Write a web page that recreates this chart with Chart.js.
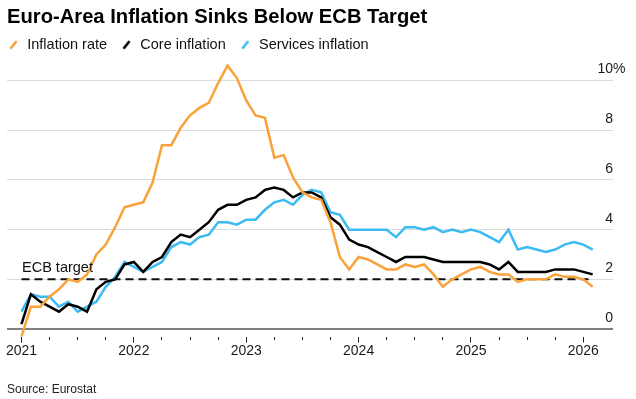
<!DOCTYPE html>
<html>
<head>
<meta charset="utf-8">
<title>Euro-Area Inflation Sinks Below ECB Target</title>
<script src="https://cdn.jsdelivr.net/npm/chart.js@4.4.1/dist/chart.umd.min.js"></script>
<style>
  html, body { margin: 0; padding: 0; background: #fff; }
  .chart-box { position: relative; width: 636px; height: 399px; }
</style>
</head>
<body>
<div class="chart-box"><canvas id="inflationChart"></canvas></div>
<script>
// Euro area, % change y/y, monthly from Dec 2020 to Jan 2026 (Eurostat)
var inflationRate = [-0.3,
  0.9, 0.9, 1.3, 1.6, 2.0, 1.9, 2.2, 3.0, 3.4, 4.1, 4.9, 5.0,
  5.1, 5.9, 7.4, 7.4, 8.1, 8.6, 8.9, 9.1, 9.9, 10.6, 10.1, 9.2,
  8.6, 8.5, 6.9, 7.0, 6.1, 5.5, 5.3, 5.2, 4.3, 2.9, 2.4, 2.9,
  2.8, 2.6, 2.4, 2.4, 2.6, 2.5, 2.6, 2.2, 1.7, 2.0, 2.2, 2.4,
  2.5, 2.3, 2.2, 2.2, 1.9, 2.0, 2.0, 2.0, 2.2, 2.1, 2.1, 2.0,
  1.7];
var coreInflation = [0.2,
  1.4, 1.1, 0.9, 0.7, 1.0, 0.9, 0.7, 1.6, 1.9, 2.0, 2.6, 2.7,
  2.3, 2.7, 2.9, 3.5, 3.8, 3.7, 4.0, 4.3, 4.8, 5.0, 5.0, 5.2,
  5.3, 5.6, 5.7, 5.6, 5.3, 5.5, 5.5, 5.3, 4.5, 4.2, 3.6, 3.4,
  3.3, 3.1, 2.9, 2.7, 2.9, 2.9, 2.9, 2.8, 2.7, 2.7, 2.7, 2.7,
  2.7, 2.6, 2.4, 2.7, 2.3, 2.3, 2.3, 2.3, 2.4, 2.4, 2.4, 2.3,
  2.2];
var servicesInflation = [0.7,
  1.4, 1.3, 1.3, 0.9, 1.1, 0.7, 0.9, 1.1, 1.7, 2.1, 2.7, 2.5,
  2.3, 2.5, 2.7, 3.3, 3.5, 3.4, 3.7, 3.8, 4.3, 4.3, 4.2, 4.4,
  4.4, 4.8, 5.1, 5.2, 5.0, 5.4, 5.6, 5.5, 4.7, 4.6, 4.0, 4.0,
  4.0, 4.0, 4.0, 3.7, 4.1, 4.1, 4.0, 4.1, 3.9, 4.0, 3.9, 4.0,
  3.9, 3.7, 3.5, 4.0, 3.2, 3.3, 3.2, 3.1, 3.2, 3.4, 3.5, 3.4,
  3.2];
var ecbTarget = 2;

var yearLabels = ['2021', '2022', '2023', '2024', '2025', '2026'];
var yearTickAt = [0, 12, 24, 36, 48, 60];
var quarterTickAt = [0, 3, 6, 9, 12, 15, 18, 21, 24, 27, 30, 33, 36, 39, 42, 45, 48, 51, 54, 57, 60];
var yTicks = [0, 2, 4, 6, 8, 10];

// x is the month number counted from Dec 2020
var monthIndex = [];
for (var i = 0; i < inflationRate.length; i++) {
    monthIndex.push(i);
}

var orange = '#F9A23A';
var blue = '#3CBAF2';
var black = '#000000';
var fontFamily = '"Liberation Sans", Arial, Helvetica, sans-serif';

Chart.defaults.font.family = fontFamily;
Chart.defaults.color = '#1a1a1a';

// little slanted strokes used as legend markers
function slashIcon(color) {
    var c = document.createElement('canvas');
    c.width = 12;
    c.height = 12;
    var g = c.getContext('2d');
    g.strokeStyle = color;
    g.lineWidth = 2.6;
    g.beginPath();
    g.moveTo(2.5, 9.8);
    g.lineTo(8.5, 2.2);
    g.stroke();
    return c;
}

var extrasPlugin = {
    id: 'extras',
    afterLayout: function(chart) {
        // legend sits tight under the headline, flush with it
        chart.legend.left = -6;
        chart.legend.top = 23.6;
    },
    afterDraw: function(chart) {
        var ctx = chart.ctx;
        var xs = chart.scales.x;
        var ys = chart.scales.y;
        ctx.save();
        ctx.textBaseline = 'middle';
        ctx.textAlign = 'left';
        ctx.fillStyle = '#111';
        ctx.font = '14.5px ' + fontFamily;
        ctx.fillText('ECB target', xs.getPixelForValue(0) + 0.5, ys.getPixelForValue(ecbTarget) - 11);
        ctx.font = '14px ' + fontFamily;
        ctx.fillStyle = '#1a1a1a';
        ctx.fillText('%', ys.left, ys.getPixelForValue(10) - 11);
        ctx.restore();
    }
};

var ctx = document.getElementById('inflationChart').getContext('2d');

var chart = new Chart(ctx, {
    type: 'line',
    data: {
        labels: monthIndex,
        datasets: [
            {
                label: 'Inflation rate',
                data: inflationRate,
                borderColor: orange,
                backgroundColor: orange,
                pointStyle: slashIcon(orange)
            },
            {
                label: 'Core inflation',
                data: coreInflation,
                borderColor: black,
                backgroundColor: black,
                pointStyle: slashIcon(black)
            },
            {
                label: 'Services inflation',
                data: servicesInflation,
                borderColor: blue,
                backgroundColor: blue,
                pointStyle: slashIcon(blue)
            },
            {
                label: 'ECB target',
                data: [{x: 0, y: ecbTarget}, {x: monthIndex.length - 1, y: ecbTarget}],
                borderColor: '#111',
                borderWidth: 2,
                borderDash: [8, 5]
            }
        ]
    },
    options: {
        responsive: true,
        maintainAspectRatio: false,
        animation: false,
        events: [],
        layout: {
            padding: {left: 7, right: 23, top: 5, bottom: 0}
        },
        elements: {
            point: {radius: 0},
            line: {borderWidth: 2.5, tension: 0, fill: false}
        },
        datasets: {
            line: {clip: false}
        },
        plugins: {
            title: {
                display: true,
                text: 'Euro-Area Inflation Sinks Below ECB Target',
                align: 'start',
                color: '#000',
                font: {size: 20.2, weight: 'bold', lineHeight: 1.2},
                padding: {top: 0, bottom: 0}
            },
            legend: {
                display: true,
                align: 'start',
                maxHeight: 26.5,
                labels: {
                    usePointStyle: true,
                    boxWidth: 12,
                    boxHeight: 12,
                    padding: 14,
                    color: '#111',
                    font: {size: 14.5},
                    filter: function(item) { return item.datasetIndex < 3; }
                }
            },
            subtitle: {
                display: true,
                position: 'bottom',
                align: 'start',
                text: 'Source: Eurostat',
                color: '#222',
                font: {size: 12, lineHeight: 1.2},
                padding: {top: 23.5, bottom: 1.8}
            },
            tooltip: {enabled: false}
        },
        scales: {
            x: {
                type: 'linear',
                min: -1.549,
                max: 63.17,
                afterBuildTicks: function(scale) {
                    scale.ticks = quarterTickAt.map(function(v) { return {value: v}; });
                },
                border: {display: false},
                grid: {
                    drawOnChartArea: false,
                    drawTicks: true,
                    tickLength: 6,
                    tickWidth: 1,
                    tickColor: '#222',
                    tickBorderDash: function(c) {
                        if (c.tick && yearTickAt.indexOf(c.tick.value) < 0) return [3, 20];
                        return [];
                    }
                },
                ticks: {
                    autoSkip: false,
                    maxRotation: 0,
                    padding: 0,
                    color: '#1a1a1a',
                    font: {size: 14},
                    callback: function(value) {
                        var k = yearTickAt.indexOf(value);
                        return k >= 0 ? yearLabels[k] : '';
                    }
                }
            },
            y: {
                position: 'right',
                min: -0.3,
                max: 11,
                afterBuildTicks: function(scale) {
                    scale.ticks = yTicks.map(function(v) { return {value: v}; });
                },
                border: {display: false},
                grid: {
                    drawTicks: false,
                    color: function(c) {
                        return c.tick && c.tick.value === 0 ? '#808080' : '#dcdcdc';
                    },
                    lineWidth: function(c) {
                        return c.tick && c.tick.value === 0 ? 2 : 1;
                    }
                },
                ticks: {
                    mirror: true,
                    padding: 0,
                    labelOffset: -11,
                    color: '#1a1a1a',
                    font: {size: 14},
                    callback: function(value) { return String(value); }
                }
            }
        }
    },
    plugins: [extrasPlugin]
});
</script>
</body>
</html>
